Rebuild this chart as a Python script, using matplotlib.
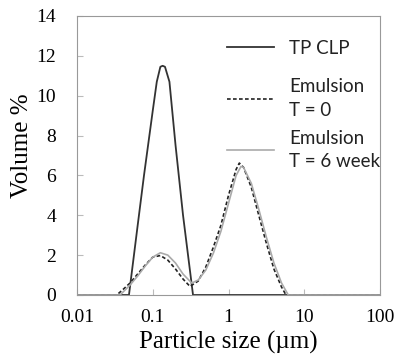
import numpy as np
import matplotlib
matplotlib.use("Agg")
import matplotlib.pyplot as plt
from matplotlib.legend import Legend

# Particle size distributions (size in um, volume %)
tp_size = [0.01, 0.0485, 0.063, 0.0766, 0.1, 0.113, 0.126, 0.135, 0.145, 0.166, 0.2, 0.251, 0.34, 100]
tp_vol = [0, 0, 3.45, 6.0, 9.25, 10.7, 11.45, 11.5, 11.45, 10.7, 7.5, 4.0, 0, 0]

emul0_size = [0.01, 0.0334, 0.0398, 0.0501, 0.0631, 0.0794, 0.1, 0.126, 0.158, 0.2, 0.251,
              0.31, 0.398, 0.501, 0.631, 0.794, 1.0, 1.26, 1.39, 1.58, 2.0, 2.51, 3.16,
              3.98, 5.01, 5.74, 100]
emul0_vol = [0, 0, 0.25, 0.6, 1.05, 1.5, 1.9, 1.98, 1.75, 1.3, 0.8,
             0.43, 0.7, 1.4, 2.4, 3.5, 5.0, 6.3, 6.62, 6.4, 5.4, 4.0, 2.6,
             1.3, 0.4, 0, 0]

emul6_size = [0.01, 0.037, 0.0398, 0.0501, 0.0631, 0.0794, 0.1, 0.126, 0.158, 0.2, 0.251,
              0.327, 0.398, 0.501, 0.631, 0.794, 1.0, 1.26, 1.46, 1.58, 2.0, 2.51, 3.16,
              3.98, 5.01, 6.15, 100]
emul6_vol = [0, 0, 0.12, 0.5, 0.95, 1.45, 1.9, 2.12, 2.0, 1.6, 1.05,
             0.6, 0.75, 1.25, 2.1, 3.2, 4.6, 6.0, 6.45, 6.4, 5.6, 4.3, 2.9,
             1.6, 0.6, 0, 0]

x_ticks = [0.01, 0.1, 1, 10, 100]
x_labels = ["0.01", "0.1", "1", "10", "100"]
y_ticks = [0, 2, 4, 6, 8, 10, 12, 14]

serif = "Liberation Serif"
fig = plt.figure(figsize=(3.98, 3.59), dpi=100)
ax = fig.add_axes([0.1935, 0.1783, 0.7613, 0.7772])

l_tp, = ax.plot(tp_size, tp_vol, color="#333333", lw=1.3)
l_e0, = ax.plot(emul0_size, emul0_vol, color="#222222", lw=1.2, ls=(0, (2.2, 1.4)))
l_e6, = ax.plot(emul6_size, emul6_vol, color="#aaaaaa", lw=1.2)

ax.set_xscale("log")
ax.set_xlim(0.01, 100)
ax.set_ylim(0, 14)
ax.set_xticks(x_ticks)
ax.set_xticklabels(x_labels)
ax.set_yticks(y_ticks)
ax.minorticks_off()
ax.tick_params(direction="in", length=4, color="#bbbbbb", labelsize=14)
ax.tick_params(axis="y", pad=15)
ax.tick_params(axis="x", pad=10)
for lab in ax.get_xticklabels() + ax.get_yticklabels():
    lab.set_family(serif)
for sp in ax.spines.values():
    sp.set_color("#999999")
    sp.set_linewidth(0.8)

ax.set_xlabel("Particle size (\u00b5m)", family=serif, fontsize=18)
ax.set_ylabel("Volume %", family=serif, fontsize=18)
ax.xaxis.set_label_coords(0.5, -0.13)
ax.yaxis.set_label_coords(-0.145, 0.534)

# one legend per entry so each row sits where the reference has it
entries = [(l_tp, "TP CLP", 0.885), (l_e0, "Emulsion\nT = 0", 0.704),
           (l_e6, "Emulsion\nT = 6 week", 0.52)]
for handle, text, yc in entries:
    leg = Legend(ax, [handle], [text], loc="center left", bbox_to_anchor=(0.495, yc),
                 frameon=False, prop={"family": "Lato", "size": 13.5},
                 handlelength=2.5, handletextpad=0.8, borderpad=0, borderaxespad=0)
    for t in leg.get_texts():
        t.set_linespacing(1.45)
        t.set_color("#222222")
    ax.add_artist(leg)

fig.savefig("out.png", dpi=100)
